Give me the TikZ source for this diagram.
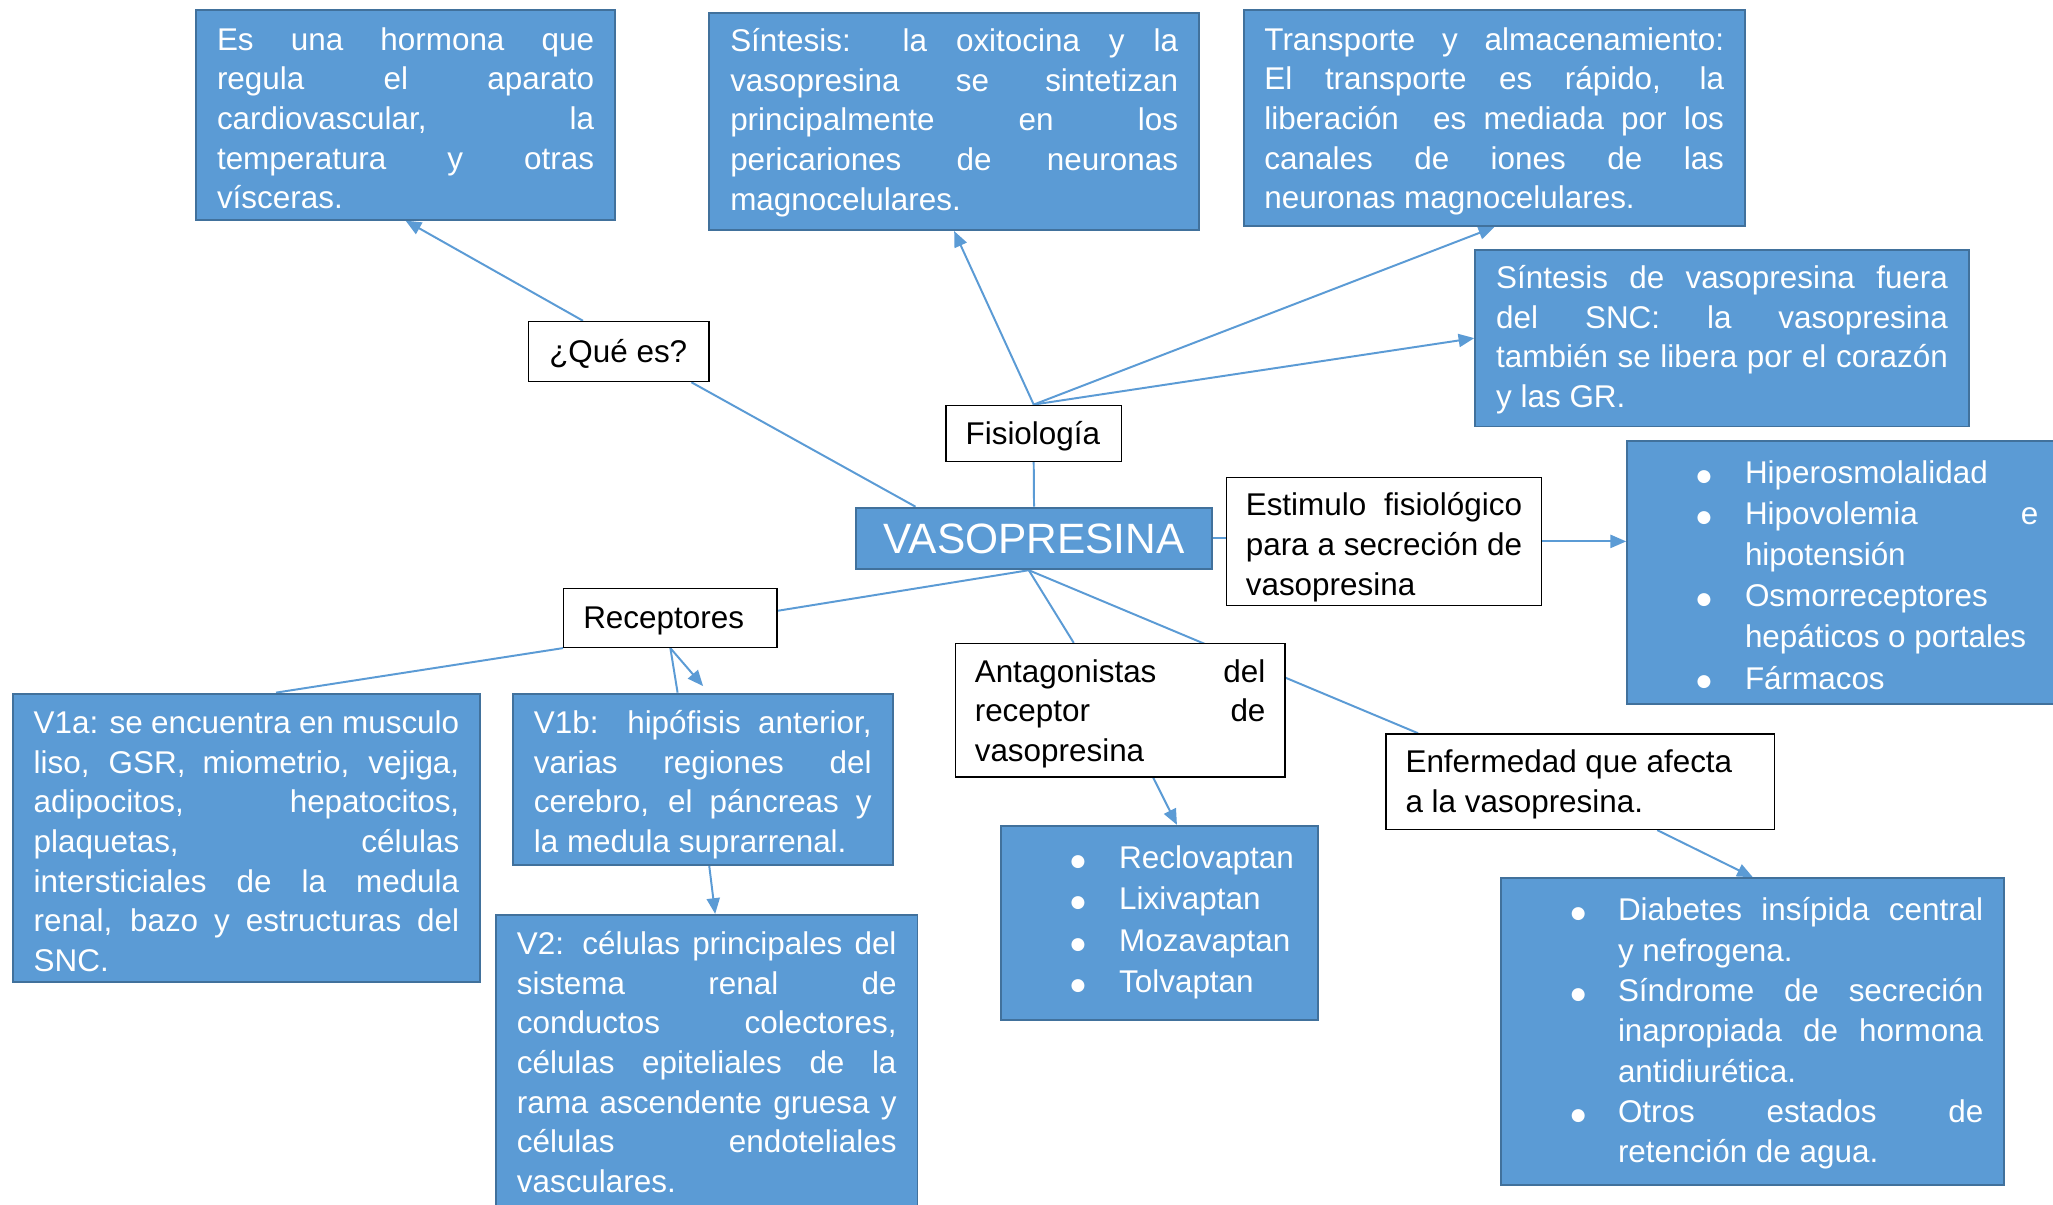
\documentclass[tikz,border=0pt]{standalone}
\usepackage{fontspec}
\setmainfont{Liberation Sans}
\newfontfamily\symfont{DejaVu Sans}
\usetikzlibrary{arrows.meta,calc,backgrounds}
\definecolor{boxblue}{HTML}{5B9BD5}
\definecolor{boxedge}{HTML}{41719C}
\definecolor{linkblue}{HTML}{5B9BD5}
\newlength\bind \newlength\bw \newlength\btw
\newcommand\J[1]{\makebox[\linewidth][s]{#1}\par}
\newcommand\Lf[1]{#1\par}
\newcommand\bul{\raisebox{1.8pt}{\symfont\fontsize{13}{13}\selectfont ●}}
\newcommand\Bi[1]{\hspace*{\bind}\makebox[\bw][l]{\bul}#1\par}
\newcommand\Bj[1]{\hspace*{\bind}\makebox[\bw][l]{\bul}\makebox[\btw][s]{#1}\par}
\newcommand\Ci[1]{\hspace*{\bind}\hspace*{\bw}#1\par}
\newcommand\Cj[1]{\hspace*{\bind}\hspace*{\bw}\makebox[\btw][s]{#1}\par}
\newcommand\tb[4]{\parbox[c][#1pt][t]{#2pt}{\rule{0pt}{#3pt}#4}}
\tikzset{
  bluebox/.style={draw=boxedge, fill=boxblue, line width=1.5pt, text=white, inner xsep=16pt, inner ysep=0pt, anchor=north west, font=\fontsize{24}{30.3}\selectfont},
  whitebox/.style={draw=black, fill=white, line width=1pt, text=black, inner xsep=15pt, inner ysep=0pt, anchor=north west, font=\fontsize{24}{30.3}\selectfont},
  link/.style={draw=linkblue, line width=1.5pt},
  arr/.style={link, -{Triangle[length=12pt,width=10pt]}},
}
\begin{document}
\begin{tikzpicture}[x=1pt,y=-1pt]
\useasboundingbox (0,0) rectangle (1568,920);
\clip (0,0) rectangle (1568,920);
% blue boxes
\node[bluebox] (A) at (149,7) {\tb{160}{288}{30.5}{\J{Es una hormona que}\J{regula el aparato}\J{cardiovascular, la}\J{temperatura y otras}\Lf{vísceras.}}};
\node[bluebox] (B) at (541,9) {\tb{166}{342}{29.5}{\J{Síntesis: la oxitocina y la}\J{vasopresina se sintetizan}\J{principalmente en los}\J{pericariones de neuronas}\Lf{magnocelulares.}}};
\node[bluebox] (C) at (949,7) {\tb{165}{351}{30.5}{\J{Transporte y almacenamiento:}\J{El transporte es rápido, la}\J{liberación\ \ es mediada por los}\J{canales de iones de las}\Lf{neuronas magnocelulares.}}};
\node[bluebox] (D) at (1126,190) {\tb{135}{345}{29.5}{\J{Síntesis de vasopresina fuera}\J{del SNC: la vasopresina}\J{también se libera por el corazón}\Lf{y las GR.}}};
\node[bluebox, font=\fontsize{24}{31.4}\selectfont] (E) at (1242,336) {\setlength\bind{37pt}\setlength\bw{37pt}\setlength\btw{224pt}\tb{201}{306}{32.5}{\Bi{Hiperosmolalidad}\Bj{Hipovolemia e}\Ci{hipotensión}\Bi{Osmorreceptores}\Ci{hepáticos o portales}\Bi{Fármacos}}};
\node[bluebox, inner xsep=0pt, minimum width=272pt, minimum height=47pt, font=\fontsize{32.4}{36}\selectfont] (vaso) at (653,387) {VASOPRESINA};
\node[bluebox] (V1a) at (9,529) {\tb{220}{325}{30.5}{\J{V1a: se encuentra en musculo}\J{liso, GSR, miometrio, vejiga,}\J{adipocitos, hepatocitos,}\J{plaquetas, células}\J{intersticiales de la medula}\J{renal, bazo y estructuras del}\Lf{SNC.}}};
\node[bluebox] (V1b) at (391,529) {\tb{131}{258}{30.5}{\J{V1b: hipófisis anterior,}\J{varias regiones del}\J{cerebro, el páncreas y}\Lf{la medula suprarrenal.}}};
\node[bluebox] (V2) at (378,698) {\tb{232}{290}{30.3}{\J{V2: células principales del}\J{sistema renal de}\J{conductos colectores,}\J{células epiteliales de la}\J{rama ascendente gruesa y}\J{células endoteliales}\Lf{vasculares.}}};
\node[bluebox, font=\fontsize{24}{31.7}\selectfont] (R) at (764,630) {\setlength\bind{37pt}\setlength\bw{37pt}\tb{148}{210}{32.5}{\Bi{Reclovaptan}\Bi{Lixivaptan}\Bi{Mozavaptan}\Bi{Tolvaptan}}};
\node[bluebox, font=\fontsize{24}{30.8}\selectfont] (diab) at (1146,670) {\setlength\bind{37pt}\setlength\bw{36pt}\setlength\btw{279pt}\tb{234}{352}{32.5}{\Bj{Diabetes insípida central}\Ci{y nefrogena.}\Bj{Síndrome de secreción}\Cj{inapropiada de hormona}\Ci{antidiurética.}\Bj{Otros estados de}\Ci{retención de agua.}}};
% white boxes
\node[whitebox, inner xsep=16pt] (que) at (403,245) {\tb{46}{106}{31.5}{\Lf{\mbox{¿Qué es?}}}};
\node[whitebox] (fis) at (722,309) {\tb{43}{104}{30}{\Lf{\mbox{Fisiología}}}};
\node[whitebox] (rec) at (430,449) {\tb{45}{133}{30.5}{\Lf{\mbox{Receptores}}}};
\node[whitebox] (est) at (936,364) {\tb{98}{211}{29.5}{\J{Estimulo fisiológico}\J{para a secreción de}\Lf{vasopresina}}};
\node[whitebox] (ant) at (729,491) {\tb{102}{222}{29.5}{\J{Antagonistas del}\J{receptor de}\Lf{vasopresina}}};
\node[whitebox] (enf) at (1058,560) {\tb{73}{267}{29.5}{\Lf{\mbox{Enfermedad que afecta}}\Lf{\mbox{a la vasopresina.}}}};
% connectors
\begin{pgfonlayer}{background}
\fill[white] (0,0) rectangle (1568,920);
\draw[arr] ($(que.north west)!0.304!(que.north east)$) -- (A.south);
\draw[link] ($(vaso.north west)!0.169!(vaso.north east)$) -- ($(que.south west)!0.9!(que.south east)$);
\draw[link] (fis.south) -- (vaso.north);
\draw[arr] (fis.north) -- (B.south);
\draw[arr] (fis.north) -- (C.south);
\draw[arr] (fis.north) -- (D.west);
\draw[link] (vaso.east) -- (vaso.east -| est.west);
\draw[arr] (est.east) -- (est.east -| E.west);
\coordinate (vs) at ([xshift=-4pt]vaso.south);
\draw[link] (vs) -- ($(rec.north east)!0.38!(rec.south east)$);
\draw[link] (vs) -- ($(ant.north west)!0.36!(ant.north east)$);
\draw[link] (vs) -- ($(enf.north west)!0.084!(enf.north east)$);
\draw[arr] ($(ant.south west)!0.6!(ant.south east)$) -- ($(R.north west)!0.554!(R.north east)$);
\draw[arr] ($(enf.south west)!0.697!(enf.south east)$) -- (diab.north);
\draw[link] (rec.south west) -- ($(V1a.north west)!0.563!(V1a.north east)$);
\draw[link] (rec.south) -- ($(V1b.north west)!0.434!(V1b.north east)$);
\coordinate (t1) at ($(V1b.north west)+(146,-5)$);
\draw[arr] (rec.south) -- (t1);
\draw[arr] ($(V1b.south west)!0.517!(V1b.south east)$) -- ($(V2.north west)!0.52!(V2.north east)$);
\end{pgfonlayer}
\end{tikzpicture}
\end{document}
